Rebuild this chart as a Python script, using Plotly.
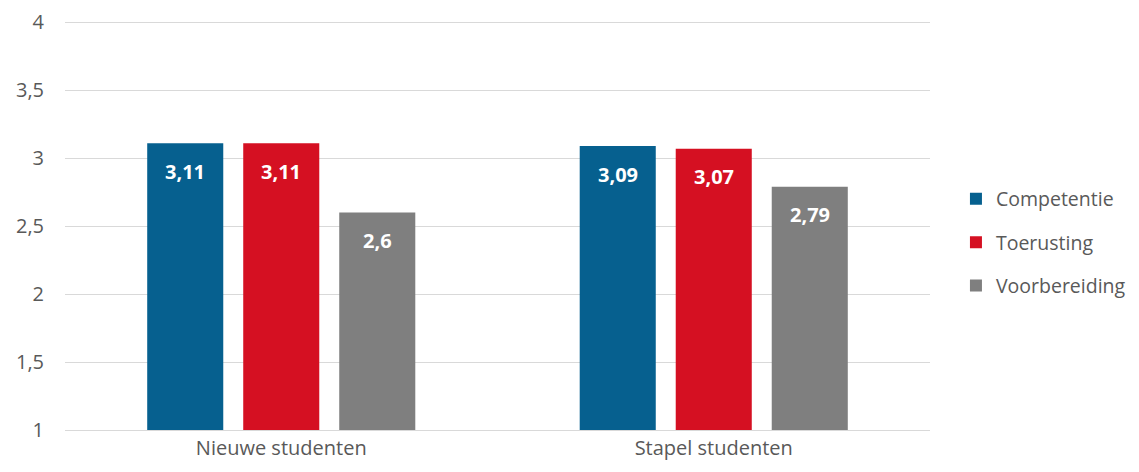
import plotly.graph_objects as go

groepen = ['Nieuwe studenten', 'Stapel studenten']
reeksen = ['Competentie', 'Toerusting', 'Voorbereiding']
kleuren = ['#06608F', '#D51022', '#7F7F7F']
competentie = [3.11, 3.09]
toerusting = [3.11, 3.07]
voorbereiding = [2.6, 2.79]
y_ticks = [1, 1.5, 2, 2.5, 3, 3.5, 4]
y_ticklabels = ['1', '1,5', '2', '2,5', '3', '3,5', '4']

waarden = [competentie, toerusting, voorbereiding]

fig = go.Figure()
for i, naam in enumerate(reeksen):
    fig.add_trace(go.Bar(
        x=groepen, y=waarden[i], name=naam,
        marker=dict(color=kleuren[i], line=dict(width=0)),
        legendgroup=naam,
        offsetgroup=str(i),
    ))

# labels in de balken, net onder de bovenkant
for i, naam in enumerate(reeksen):
    for j, g in enumerate(groepen):
        fig.add_annotation(
            x=g, y=waarden[i][j], xref='x', yref='y',
            text='<b>' + str(waarden[i][j]).replace('.', ',') + '</b>',
            showarrow=False, yanchor='middle', yshift=-28,
            xshift=(i - 1) * 96,
            font=dict(color='white', size=20, family='Open Sans'),
        )

fig.update_layout(
    width=1139, height=472,
    margin=dict(l=57, r=217, t=13, b=50),
    plot_bgcolor='white', paper_bgcolor='white',
    barmode='group', bargap=0.334, bargroupgap=0.208,
    font=dict(family='Open Sans', size=20, color='#595959'),
    legend=dict(x=1.03, y=0.458, yanchor='middle', xanchor='left',
                font=dict(size=19.5, color='#595959'),
                tracegroupgap=15, itemwidth=30),
    showlegend=True,
)
fig.update_xaxes(showgrid=False, showline=True, linecolor='#D9D9D9',
                 linewidth=1, ticks='', tickfont=dict(size=20),
                 automargin=False)
fig.update_yaxes(range=[1, 4.01], tickvals=y_ticks, ticktext=y_ticklabels,
                 showgrid=True, gridcolor='#D9D9D9', gridwidth=1,
                 zeroline=False, showline=False, ticks='',
                 ticklabelstandoff=20, tickfont=dict(size=20),
                 ticklabeloverflow='allow', automargin=False)

fig.write_html("out.html")
